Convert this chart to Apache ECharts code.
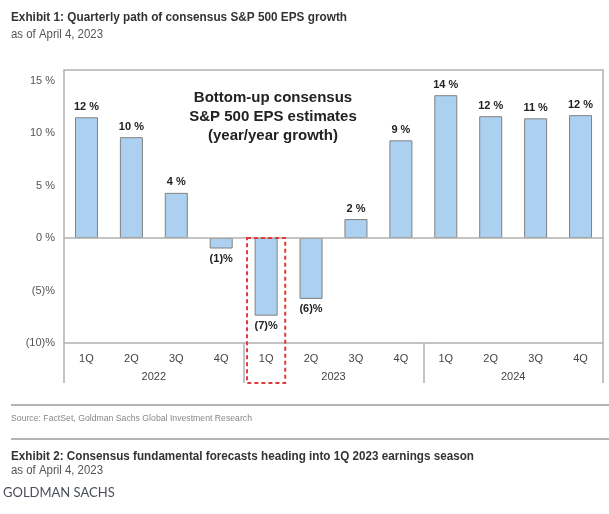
<!DOCTYPE html>
<html>
<head>
<meta charset="utf-8">
<script src="https://cdn.jsdelivr.net/npm/echarts@6/dist/echarts.min.js"></script>
<style>html,body{margin:0;padding:0;background:#fff;}#c{width:609px;height:514px;}</style>
</head>
<body>
<div id="c"></div>
<script>
const quarters = ['1Q','2Q','3Q','4Q','1Q','2Q','3Q','4Q','1Q','2Q','3Q','4Q'];
const years = ['2022','2023','2024'];
const epsGrowth = [11.5, 9.6, 4.3, -1.0, -7.4, -5.8, 1.8, 9.3, 13.6, 11.6, 11.4, 11.7];
const valueLabels = ['12 %','10 %','4 %','(1)%','(7)%','(6)%','2 %','9 %','14 %','12 %','11 %','12 %'];
const yTicks = [-10, -5, 0, 5, 10, 15];
const highlightIndex = 4;

const catIds = quarters.map((q, i) => q + ' ' + years[Math.floor(i / 4)]);
const chart = echarts.init(document.getElementById('c'), null, {renderer: 'canvas'});
const arial = '"Liberation Sans", Arial, sans-serif';

const option = {
  animation: false,
  backgroundColor: '#fff',
  grid: {left: 64, right: 6, top: 70, bottom: 171, show: true, borderColor: '#b0b0b0', borderWidth: 1.5, backgroundColor: 'transparent'},
  xAxis: [
    {type: 'category', data: catIds, position: 'bottom',
     axisLine: {show: false, onZero: false}, axisTick: {show: false},
     axisLabel: {margin: 10, color: '#444', fontFamily: arial, fontSize: 11,
                 formatter: (v, i) => quarters[i]}},
    {type: 'category', data: years, position: 'bottom', offset: 0,
     axisLine: {show: false, onZero: false},
     axisTick: {show: true, length: 40, interval: 0, lineStyle: {color: '#b0b0b0', width: 1.5}},
     axisLabel: {margin: 28, color: '#444', fontFamily: arial, fontSize: 11}}
  ],
  yAxis: {type: 'value', min: yTicks[0], max: 16, interval: 5,
    axisLine: {show: false}, axisTick: {show: false}, splitLine: {show: false},
    axisLabel: {margin: 9, color: '#555', fontFamily: arial, fontSize: 11, showMaxLabel: false,
      formatter: v => (yTicks.indexOf(v) < 0 ? '' : (v < 0 ? '(' + (-v) + ')%' : v + ' %'))}},
  series: [{
    type: 'bar', xAxisIndex: 0, barWidth: 23,
    itemStyle: {color: '#acd0f0', borderColor: '#808080', borderWidth: 1},
    data: epsGrowth.map((v, i) => ({value: v, label: {position: v < 0 ? 'bottom' : 'top'}})),
    label: {show: true, distance: 5, color: '#222', fontWeight: 'bold', fontFamily: arial, fontSize: 11,
            formatter: p => valueLabels[p.dataIndex]},
    markLine: {silent: true, symbol: 'none', label: {show: false},
               lineStyle: {color: '#b0b0b0', width: 1.5, type: 'solid'}, data: [{yAxis: 0}]}
  }]
};
chart.setOption(option);

const cx = chart.convertToPixel({xAxisIndex: 0}, highlightIndex);
const band = chart.convertToPixel({xAxisIndex: 0}, 1) - chart.convertToPixel({xAxisIndex: 0}, 0);
const yZero = chart.convertToPixel({yAxisIndex: 0}, 0);
const yMin = chart.convertToPixel({yAxisIndex: 0}, yTicks[0]);
const boxW = band * 0.85;

const ctx = document.createElement('canvas').getContext('2d');
function narrowText(text, font, x, y, targetW, fill) {
  ctx.font = font;
  const w = ctx.measureText(text).width;
  const s = Math.min(1, targetW / w);
  return {type: 'text', x: x, y: y, scaleX: s, scaleY: 1,
          style: {text: text, font: font, fill: fill, verticalAlign: 'middle', align: 'left'}};
}
const tFont = 'bold 13px ' + arial;
const sFont = '12px ' + arial;

chart.setOption({graphic: [
  narrowText('Exhibit 1: Quarterly path of consensus S&P 500 EPS growth', tFont, 11, 17, 336, '#333'),
  narrowText('as of April 4, 2023', sFont, 11, 35, 92, '#555'),
  {type: 'text', x: 273, y: 88, style: {text: 'Bottom-up consensus\nS&P 500 EPS estimates\n(year/year growth)', font: 'bold 15px ' + arial, fill: '#222', align: 'center', verticalAlign: 'top', lineHeight: 19}},
  {type: 'rect', shape: {x: cx - boxW / 2, y: yZero, width: boxW, height: yMin + 40 - yZero},
   style: {fill: 'none', stroke: '#e03a3a', lineWidth: 2, lineDash: [4, 3]}, z: 10},
  {type: 'line', shape: {x1: 11, y1: 405, x2: 609, y2: 405}, style: {stroke: '#b5b5b5', lineWidth: 2}},
  narrowText('Source: FactSet, Goldman Sachs Global Investment Research', '9px ' + arial, 11, 419, 241, '#888'),
  {type: 'line', shape: {x1: 11, y1: 439, x2: 609, y2: 439}, style: {stroke: '#b5b5b5', lineWidth: 2}},
  narrowText('Exhibit 2: Consensus fundamental forecasts heading into 1Q 2023 earnings season', tFont, 11, 456, 463, '#333'),
  narrowText('as of April 4, 2023', sFont, 11, 471, 92, '#555'),
  {type: 'text', x: 3, y: 493, style: {text: 'GOLDMAN SACHS', font: '13px Lato, "Open Sans", sans-serif', fill: '#4a4e5c', verticalAlign: 'middle'}}
]});
</script>
</body>
</html>
